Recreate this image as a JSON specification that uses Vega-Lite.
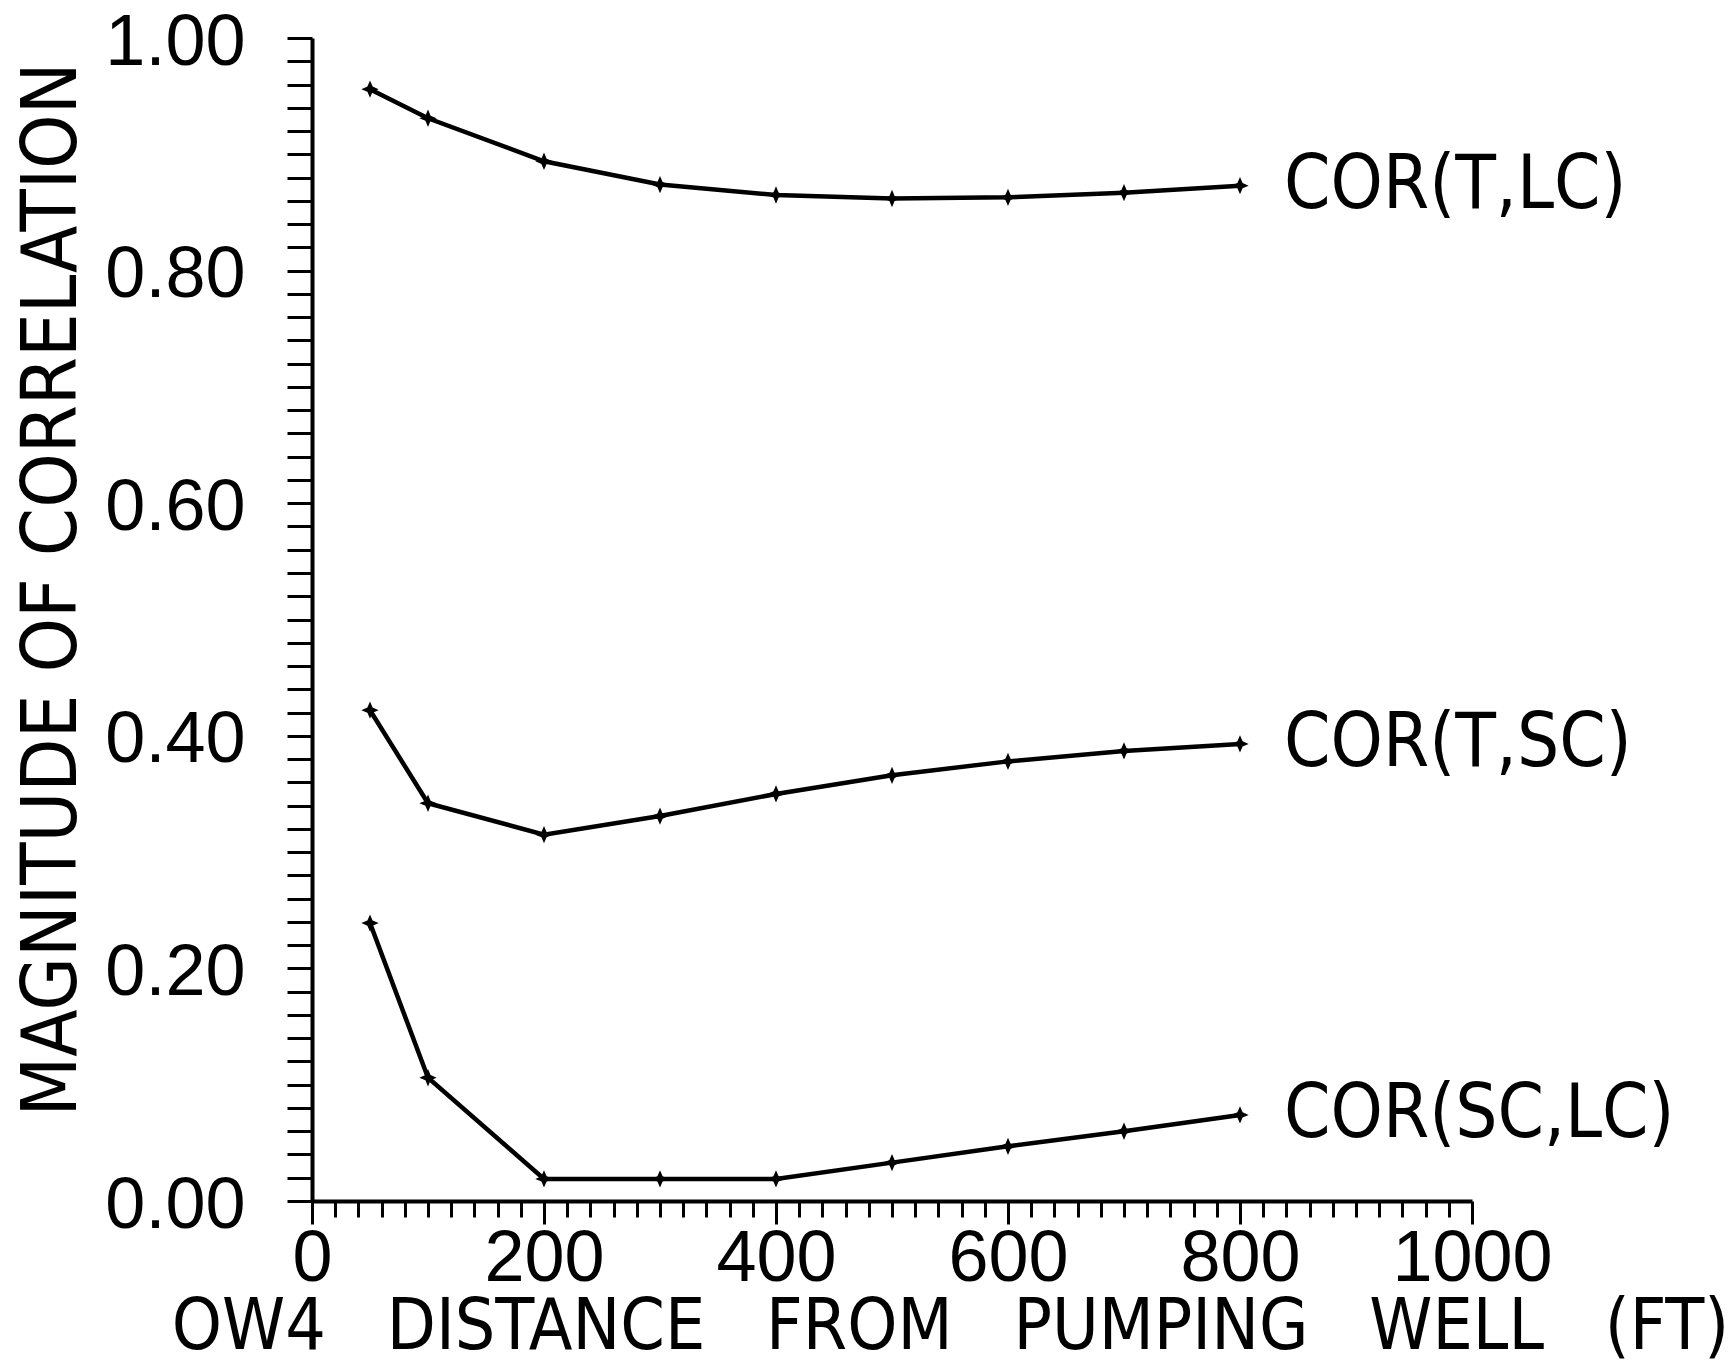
{
  "$schema": "https://vega.github.io/schema/vega-lite/v6.json",
  "width": 1160,
  "height": 1163,
  "autosize": {"type": "none"},
  "padding": {"left": 312, "top": 38, "right": 264, "bottom": 168},
  "background": "white",
  "config": {"view": {"stroke": null}, "font": "Liberation Sans"},
  "data": {"values": [
    {"series": "COR(T,LC)", "distance": 50, "cor": 0.956},
    {"series": "COR(T,LC)", "distance": 100, "cor": 0.931},
    {"series": "COR(T,LC)", "distance": 200, "cor": 0.894},
    {"series": "COR(T,LC)", "distance": 300, "cor": 0.874},
    {"series": "COR(T,LC)", "distance": 400, "cor": 0.865},
    {"series": "COR(T,LC)", "distance": 500, "cor": 0.862},
    {"series": "COR(T,LC)", "distance": 600, "cor": 0.863},
    {"series": "COR(T,LC)", "distance": 700, "cor": 0.867},
    {"series": "COR(T,LC)", "distance": 800, "cor": 0.873},
    {"series": "COR(T,SC)", "distance": 50, "cor": 0.422},
    {"series": "COR(T,SC)", "distance": 100, "cor": 0.342},
    {"series": "COR(T,SC)", "distance": 200, "cor": 0.315},
    {"series": "COR(T,SC)", "distance": 300, "cor": 0.331},
    {"series": "COR(T,SC)", "distance": 400, "cor": 0.350},
    {"series": "COR(T,SC)", "distance": 500, "cor": 0.366},
    {"series": "COR(T,SC)", "distance": 600, "cor": 0.378},
    {"series": "COR(T,SC)", "distance": 700, "cor": 0.387},
    {"series": "COR(T,SC)", "distance": 800, "cor": 0.393},
    {"series": "COR(SC,LC)", "distance": 50, "cor": 0.239},
    {"series": "COR(SC,LC)", "distance": 100, "cor": 0.106},
    {"series": "COR(SC,LC)", "distance": 200, "cor": 0.019},
    {"series": "COR(SC,LC)", "distance": 300, "cor": 0.019},
    {"series": "COR(SC,LC)", "distance": 400, "cor": 0.019},
    {"series": "COR(SC,LC)", "distance": 500, "cor": 0.033},
    {"series": "COR(SC,LC)", "distance": 600, "cor": 0.047},
    {"series": "COR(SC,LC)", "distance": 700, "cor": 0.060},
    {"series": "COR(SC,LC)", "distance": 800, "cor": 0.074}
  ]},
  "encoding": {
    "x": {
      "field": "distance", "type": "quantitative",
      "scale": {"domain": [0, 1000], "nice": false, "zero": false},
      "axis": {
        "title": "OW4\u00a0\u00a0\u00a0DISTANCE\u00a0\u00a0\u00a0FROM\u00a0\u00a0\u00a0PUMPING\u00a0\u00a0\u00a0WELL\u00a0\u00a0\u00a0(FT)",
        "values": [0,20,40,60,80,100,120,140,160,180,200,220,240,260,280,300,320,340,360,380,400,420,440,460,480,500,520,540,560,580,600,620,640,660,680,700,720,740,760,780,800,820,840,860,880,900,920,940,960,980,1000],
        "labelExpr": "datum.value % 200 == 0 ? datum.label : ''",
        "format": "d",
        "grid": false,
        "domainColor": "black", "domainWidth": 4,
        "tickColor": "black", "tickWidth": 3,
        "tickSize": {"condition": {"test": "datum.value % 200 == 0", "value": 23}, "value": 16},
        "labelFont": "Liberation Sans", "labelFontSize": 72, "labelColor": "black",
        "labelBaseline": "alphabetic", "labelPadding": 56,
        "labelOverlap": false, "labelFlush": false,
        "titleFont": "DejaVu Sans Condensed, Liberation Sans", "titleFontSize": 71, "titleFontWeight": "normal", "titleColor": "black",
        "titleX": 638, "titleY": 147, "titleAlign": "center", "titleBaseline": "alphabetic"
      }
    },
    "y": {
      "field": "cor", "type": "quantitative",
      "scale": {"domain": [0, 1], "nice": false, "zero": false},
      "axis": {
        "title": "MAGNITUDE OF CORRELATION",
        "values": [0,0.02,0.04,0.06,0.08,0.1,0.12,0.14,0.16,0.18,0.2,0.22,0.24,0.26,0.28,0.3,0.32,0.34,0.36,0.38,0.4,0.42,0.44,0.46,0.48,0.5,0.52,0.54,0.56,0.58,0.6,0.62,0.64,0.66,0.68,0.7,0.72,0.74,0.76,0.78,0.8,0.82,0.84,0.86,0.88,0.9,0.92,0.94,0.96,0.98,1],
        "labelExpr": "abs(datum.value*5 - round(datum.value*5)) < 0.000001 ? format(datum.value, '.2f') : ''",
        "grid": false,
        "domainColor": "black", "domainWidth": 4,
        "tickColor": "black", "tickWidth": 3, "tickSize": 25,
        "labelFont": "Liberation Sans", "labelFontSize": 72, "labelColor": "black",
        "labelBaseline": "middle", "labelPadding": 42, "labelOffset": 4,
        "labelOverlap": false, "labelFlush": false,
        "titleFont": "DejaVu Sans Condensed, Liberation Sans", "titleFontSize": 77, "titleFontWeight": "normal", "titleColor": "black",
        "titleX": -237, "titleY": 551, "titleAlign": "center", "titleBaseline": "alphabetic", "titleAngle": -90
      }
    }
  },
  "layer": [
    {
      "mark": {"type": "line", "color": "black", "strokeWidth": 4.5},
      "encoding": {"detail": {"field": "series"}}
    },
    {
      "mark": {"type": "point", "shape": "M0,-1L0.3,-0.3L1,0L0.3,0.3L0,1L-0.3,0.3L-1,0L-0.3,-0.3Z", "filled": true, "color": "black", "size": 300, "opacity": 1}
    },
    {
      "transform": [{"filter": "datum.distance == 800"}],
      "mark": {"type": "text", "align": "left", "baseline": "middle", "dx": 44, "font": "DejaVu Sans Condensed, Liberation Sans", "fontSize": 74, "color": "black"},
      "encoding": {"text": {"field": "series"}}
    }
  ]
}
